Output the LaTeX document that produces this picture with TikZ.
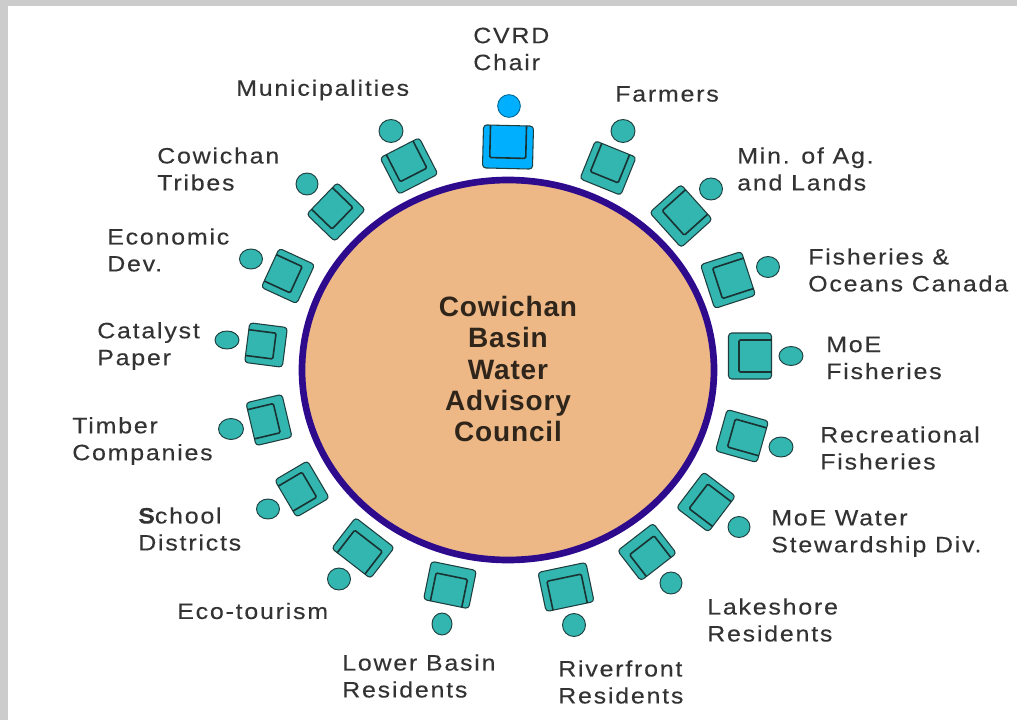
\documentclass[tikz,border=0pt]{standalone}
\usepackage{fontspec}
\usetikzlibrary{shapes.geometric}
\setmainfont{Liberation Sans}
\newfontfamily\lblfont[LetterSpace=8,FakeStretch=1.12,FakeBold=0.25]{Liberation Sans}
\newfontfamily\ttlfont[LetterSpace=3]{Liberation Sans}
\definecolor{teal1}{HTML}{33B5B0}
\definecolor{blue1}{HTML}{00B0FF}
\definecolor{table1}{HTML}{EDB885}
\definecolor{rim}{HTML}{2E0A8C}
\definecolor{ink}{HTML}{333333}
\definecolor{edge}{HTML}{1F3F3F}
\tikzset{
 lbl/.style={font=\lblfont\fontsize{16.7pt}{20.2pt}\selectfont,text=ink,align=left,anchor=west,inner sep=0pt},
 title/.style={font=\ttlfont\fontsize{21pt}{23.3pt}\selectfont\bfseries,text=black!80!table1,align=center,inner sep=0pt},
 person/.style={ellipse,draw=edge,line width=.7pt,fill=teal1,inner sep=0pt},
}
% centre x, y, person x, y, width, depth, colour
\newcommand{\chairdraw}[7]{%
 \pgfmathsetmacro{\ang}{atan2(-(#3-#1),(#2-#4))}
 \pgfmathsetmacro{\hw}{#5/2+1}
 \pgfmathsetmacro{\hd}{#6/2+.5}
 \pgfmathsetmacro{\iw}{\hw-7}
 \pgfmathsetmacro{\ib}{\hd-10.5}
 \begin{scope}[shift={(#1,#2)},rotate=\ang]
  \draw[edge,line width=.8pt,fill=#7,rounded corners=2.5pt] (-\hw,-\hd) rectangle (\hw,\hd);
  \draw[edge!80!black,line width=1.2pt,rounded corners=1pt] (-\iw,-\hd) -- (-\iw,\ib) -- (\iw,\ib) -- (\iw,-\hd);
 \end{scope}}
\begin{document}
\begin{tikzpicture}[x=.75pt,y=-.75pt]
\useasboundingbox (0,0) rectangle (1017,720);
\fill[white] (0,0) rectangle (1017,720);
\fill[black!20] (0,0) rectangle (1017,6);
\fill[black!20] (0,0) rectangle (8,720);
\draw[rim,line width=5pt,fill=table1] (508,370) ellipse [x radius=206,y radius=190];
\node[title] (tt) at (508,369) {Cowichan\\Basin\\Water\\Advisory\\Council};
\chairdraw{508}{147}{509}{106}{48}{42}{blue1}
\node[person,fill=blue1,draw=blue1!60!black,minimum width=17pt,minimum height=17pt] (p0) at (509,106) {};
\foreach \cx/\cy/\px/\py/\w/\d/\pw/\ph/\n in {
 608/168/623/131/42/40/24/23/a, 681/216/711/189/45/41/23/22/b,
 728/280/768/267/44/42/23/21/c, 750/356/791/356/44/42/24/19/d,
 742/436/781/447/41/42/24/20/e, 706/502/739/527/43/39/22/21/f,
 647/552/671/583/43/37/22/22/g, 566/587/574/625/47/39/23/23/h,
 450/585/442/624/44/38/20/22/i, 363/548/339/579/47/38/23/22/j,
 302/489/268/509/41/37/23/20/k, 269/420/231/429/42/36/25/21/l,
 266/345/227/340/38/37/24/18/m, 288/276/251/259/41/38/23/20/n,
 336/212/307/184/42/38/22/22/o, 409/166/391/131/42/40/24/23/q}{
 \chairdraw{\cx}{\cy}{\px}{\py}{\w}{\d}{teal1}
 \node[person,minimum width=.75pt*\pw,minimum height=.75pt*\ph] (p\n) at (\px,\py) {};
}
\node[lbl] (l0) at (473,49) {CVRD\\Chair};
\node[lbl] (l1) at (615,94) {Farmers};
\node[lbl] (l2) at (737,169) {Min. of Ag.\\and Lands};
\node[lbl] (l3) at (808,270) {Fisheries \&\\Oceans Canada};
\node[lbl] (l4) at (826,358) {MoE\\Fisheries};
\node[lbl] (l5) at (820,448) {Recreational\\Fisheries};
\node[lbl] (l6) at (771,533.5) {MoE Water\\Stewardship Div.};
\node[lbl] (l7) at (707,620) {Lakeshore\\Residents};
\node[lbl] (l8) at (558,682) {Riverfront\\Residents};
\node[lbl] (l9) at (342,676) {Lower Basin\\Residents};
\node[lbl] (l10) at (177,611) {Eco-tourism};
\node[lbl] (l11) at (138,529) {{\bfseries S}chool\\Districts};
\node[lbl] (l12) at (72,441) {Timber\\Companies};
\node[lbl] (l13) at (97,346) {Catalyst\\Paper};
\node[lbl] (l14) at (107,250) {Economic\\Dev.};
\node[lbl] (l15) at (157,169) {Cowichan\\Tribes};
\node[lbl] (l16) at (236,90) {Municipalities};
\end{tikzpicture}
\end{document}
